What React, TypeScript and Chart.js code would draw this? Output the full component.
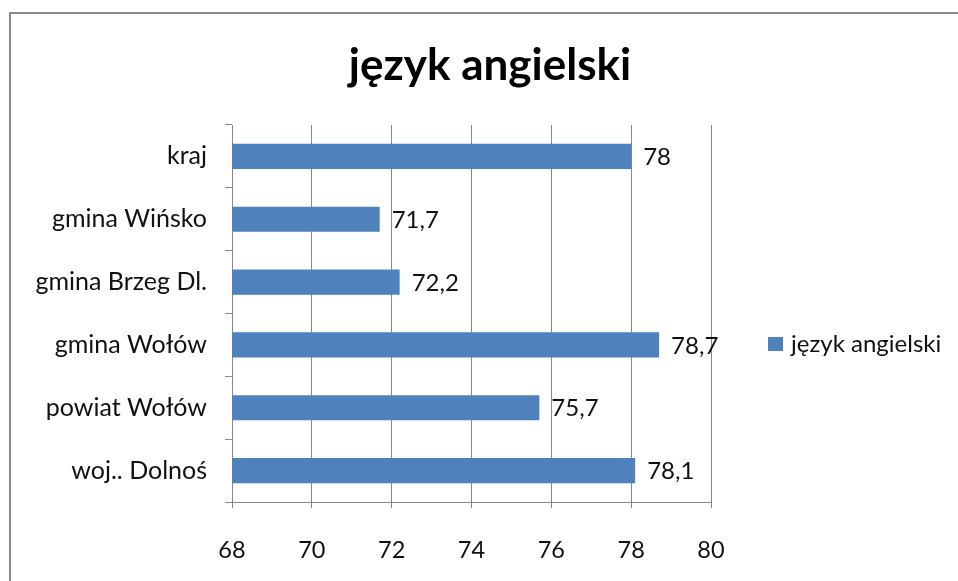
import React, { useEffect, useRef } from "react";
import { Chart, registerables } from "chart.js";

Chart.register(...registerables);

const categories = ["kraj", "gmina Wińsko", "gmina Brzeg Dl.", "gmina Wołów", "powiat Wołów", "woj.. Dolnoś"];
const values = [78, 71.7, 72.2, 78.7, 75.7, 78.1];
const seriesName = "język angielski";
const chartTitle = "język angielski";
const xMin = 68;
const xMax = 80;
const xStep = 2;

const FONT = "Lato, 'Open Sans', sans-serif";
const BAR = "#4F81BD";
const GRID = "#888888";

const fmt = (v: number) => String(v).replace(".", ",");

const decorPlugin = {
  id: "decor",
  beforeDraw(chart: any) {
    const ctx = chart.ctx;
    ctx.save();
    ctx.fillStyle = "#ffffff";
    ctx.fillRect(0, 0, chart.width, chart.height);
    ctx.strokeStyle = "#8a8a8a";
    ctx.lineWidth = 2;
    ctx.strokeRect(10, 13, chart.width + 20, chart.height + 20);
    ctx.restore();
  },
  afterDraw(chart: any) {
    const ctx = chart.ctx;
    ctx.save();
    ctx.fillStyle = "#000";
    ctx.font = `bold 44px ${FONT}`;
    ctx.textAlign = "center";
    ctx.textBaseline = "middle";
    ctx.fillText(chartTitle, 490, 66);
    const meta = chart.getDatasetMeta(0);
    ctx.font = `24px ${FONT}`;
    ctx.textAlign = "left";
    ctx.fillStyle = "#111";
    meta.data.forEach((el: any, i: number) => {
      ctx.fillText(fmt(values[i]), el.x + 12, el.y + 1);
    });
    ctx.fillStyle = BAR;
    ctx.fillRect(768, 337, 15, 14);
    ctx.fillStyle = "#111";
    ctx.font = `24px ${FONT}`;
    ctx.fillText(seriesName, 791, 344);
    ctx.restore();
  },
};

export default function App() {
  const ref = useRef<HTMLCanvasElement>(null);
  useEffect(() => {
    if (!ref.current) return;
    const chart = new Chart(ref.current, {
      type: "bar",
      data: {
        labels: categories,
        datasets: [
          {
            label: seriesName,
            data: values,
            backgroundColor: BAR,
            barPercentage: 0.4,
            categoryPercentage: 1,
          },
        ],
      },
      plugins: [decorPlugin],
      options: {
        indexAxis: "y",
        animation: false,
        responsive: false,
        devicePixelRatio: 1,
        layout: { padding: { left: 0, top: 125, right: 247, bottom: 0 } },
        plugins: { legend: { display: false }, title: { display: false }, tooltip: { enabled: false } },
        scales: {
          x: {
            min: xMin,
            max: xMax,
            ticks: { stepSize: xStep, color: "#111", font: { family: FONT, size: 23.5 }, padding: 28 },
            grid: { color: GRID, tickLength: 6, lineWidth: 1 },
            border: { color: GRID },
            afterFit: (s: any) => { s.height = 79; },
          },
          y: {
            ticks: { color: "#111", font: { family: FONT, size: 25 }, padding: 18 },
            grid: { color: GRID, drawOnChartArea: false, tickLength: 7, offset: true },
            border: { color: GRID },
            afterFit: (s: any) => { s.width = 232; },
          },
        },
      } as any,
    });
    return () => chart.destroy();
  }, []);
  return (
    <div style={{ position: "fixed", left: 0, top: 0, width: 958, height: 581 }}>
      <canvas ref={ref} width={958} height={581} style={{ width: 958, height: 581 }} />
    </div>
  );
}
